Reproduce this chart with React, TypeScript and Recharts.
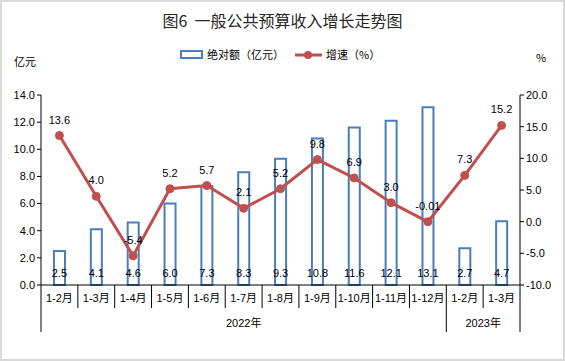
import { ComposedChart, Bar, Line, XAxis, YAxis, LabelList } from 'recharts';

const categories = ['1-2月', '1-3月', '1-4月', '1-5月', '1-6月', '1-7月', '1-8月', '1-9月', '1-10月', '1-11月', '1-12月', '1-2月', '1-3月'];
const periodKeys = ['2022-02', '2022-03', '2022-04', '2022-05', '2022-06', '2022-07', '2022-08', '2022-09', '2022-10', '2022-11', '2022-12', '2023-02', '2023-03'];
const absoluteValues = [2.5, 4.1, 4.6, 6.0, 7.3, 8.3, 9.3, 10.8, 11.6, 12.1, 13.1, 2.7, 4.7];
const growthRates = [13.6, 4.0, -5.4, 5.2, 5.7, 2.1, 5.2, 9.8, 6.9, 3.0, -0.01, 7.3, 15.2];
const leftTicks = [0, 2, 4, 6, 8, 10, 12, 14];
const rightTicks = [-10, -5, 0, 5, 10, 15, 20];

const FONT = "'Liberation Sans', 'Noto Sans CJK SC', sans-serif";
const CJK = "'Noto Sans CJK SC', sans-serif";
const BLUE = '#4A7EBB';
const RED = '#C0504D';

const W = 565;
const H = 361;
const PLOT_LEFT = 41;
const PLOT_RIGHT = 520;
const PLOT_BOTTOM = 285;
const BAND = (PLOT_RIGHT - PLOT_LEFT) / categories.length;

const data = periodKeys.map((key, i) => ({
  key,
  absolute: absoluteValues[i],
  growth: growthRates[i],
}));

function MonthTick(props: any) {
  const { x, index } = props;
  const left = x - BAND / 2;
  const long = index === 0 || index === 11;
  return (
    <g>
      <line x1={left} x2={left} y1={PLOT_BOTTOM} y2={long ? 332 : 308} stroke="#000" />
      {index === categories.length - 1 && (
        <line x1={left + BAND} x2={left + BAND} y1={PLOT_BOTTOM} y2={332} stroke="#000" />
      )}
      <text x={x} y={302} textAnchor="middle" fontSize={11} fontFamily={FONT} fill="#000">
        {categories[index]}
      </text>
      {index === 5 && (
        <text x={x} y={327} textAnchor="middle" fontSize={11} fontFamily={FONT} fill="#000">
          2022年
        </text>
      )}
      {index === 11 && (
        <text x={x + BAND / 2} y={327} textAnchor="middle" fontSize={11} fontFamily={FONT} fill="#000">
          2023年
        </text>
      )}
    </g>
  );
}

export default function App() {
  return (
    <div style={{ position: 'absolute', left: 0, top: 0, width: W, height: H, background: '#fff' }}>
      <div
        style={{
          position: 'absolute',
          inset: 0,
          border: '2px solid #d9d9d9',
          boxSizing: 'border-box',
          pointerEvents: 'none',
        }}
      />
      <div
        style={{
          position: 'absolute',
          top: 8,
          left: 0,
          width: W,
          textAlign: 'center',
          fontFamily: CJK,
          fontSize: 16,
          color: '#262626',
        }}
      >
        图6&nbsp;&nbsp;一般公共预算收入增长走势图
      </div>
      <svg style={{ position: 'absolute', left: 0, top: 0 }} width={W} height={H}>
        <rect x={181} y={51} width={21} height={7} fill="#fff" stroke={BLUE} strokeWidth={2} />
        <text x={207} y={59} fontSize={11} fontFamily={CJK} fill="#000">
          绝对额（亿元）
        </text>
        <line x1={295} x2={322} y1={55} y2={55} stroke={RED} strokeWidth={3} />
        <circle cx={308} cy={55} r={4} fill={RED} />
        <text x={326} y={59} fontSize={11} fontFamily={CJK} fill="#000">
          增速（%）
        </text>
        <text x={14} y={66} fontSize={11} fontFamily={CJK} fill="#000">
          亿元
        </text>
        <text x={536} y={62} fontSize={11} fontFamily={CJK} fill="#000">
          %
        </text>
      </svg>
      <div style={{ position: 'absolute', left: 0, top: 0 }}>
        <ComposedChart width={W} height={H} data={data} margin={{ top: 95, right: 0, bottom: 0, left: 0 }}>
          <XAxis
            dataKey="key"
            height={76}
            interval={0}
            tickLine={false}
            axisLine={{ stroke: '#000' }}
            tick={<MonthTick />}
          />
          <YAxis
            yAxisId="left"
            width={41}
            domain={[0, 14]}
            ticks={leftTicks}
            tickFormatter={(v: number) => v.toFixed(1)}
            tick={{ fontSize: 11, fontFamily: FONT, fill: '#000' }}
            axisLine={{ stroke: '#000' }}
            tickLine={{ stroke: '#000' }}
            tickSize={4}
          />
          <YAxis
            yAxisId="right"
            orientation="right"
            width={45}
            domain={[-10, 20]}
            ticks={rightTicks}
            tickFormatter={(v: number) => v.toFixed(1)}
            tick={{ fontSize: 11, fontFamily: FONT, fill: '#000' }}
            axisLine={{ stroke: '#000' }}
            tickLine={{ stroke: '#000' }}
            tickSize={4}
          />
          <Bar yAxisId="left" dataKey="absolute" barSize={11} fill="#fff" stroke={BLUE} strokeWidth={2} isAnimationActive={false}>
            <LabelList
              dataKey="absolute"
              position="insideBottom"
              offset={8}
              formatter={(v: number) => v.toFixed(1)}
              style={{ fontSize: 11, fontFamily: FONT, fill: '#000' }}
            />
          </Bar>
          <Line
            yAxisId="right"
            dataKey="growth"
            stroke={RED}
            strokeWidth={3}
            dot={{ r: 4, fill: RED, stroke: RED, strokeWidth: 1 }}
            activeDot={false}
            isAnimationActive={false}
          >
            <LabelList
              dataKey="growth"
              position="top"
              offset={12}
              formatter={(v: number) => (v === -0.01 ? '-0.01' : v.toFixed(1))}
              style={{ fontSize: 11, fontFamily: FONT, fill: '#000' }}
            />
          </Line>
        </ComposedChart>
      </div>
    </div>
  );
}
